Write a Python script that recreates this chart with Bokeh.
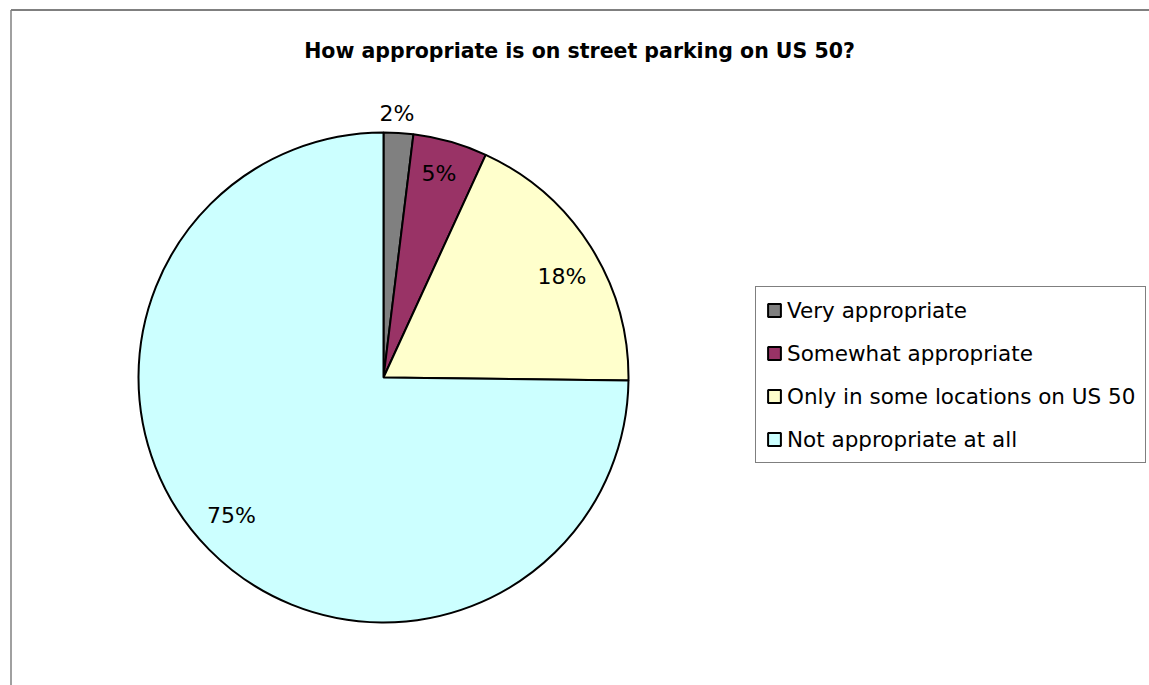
import math
from bokeh.plotting import figure
from bokeh.models import Range1d, ColumnDataSource, Legend, LegendItem, Label
from bokeh.core.properties import value
from bokeh.embed import file_html
from bokeh.resources import INLINE

# ---- data ----
title_text = "How appropriate is on street parking on US 50?"
categories = ["Very appropriate", "Somewhat appropriate",
              "Only in some locations on US 50", "Not appropriate at all"]
shares = [1.95, 4.9, 18.35, 74.8]
colors = ["#808080", "#993366", "#FFFFCC", "#CCFFFF"]

# ---- layout (image pixel space; data y = H - image y) ----
W, H = 1149, 685
FONT = "DejaVu Sans"
cx, cy, R = 383, H - 377, 245
label_r = [264, 211, 205, 205]
label_nudge_deg = [-0.6, -0.6, 2.8, 2.5]

p = figure(width=W, height=H, output_backend="svg", toolbar_location=None,
           x_range=Range1d(0, W), y_range=Range1d(0, H),
           min_border=0, outline_line_color=None)
p.axis.visible = False
p.grid.visible = False
p.background_fill_color = "white"

# chart-area border (partly cropped)
p.segment(x0=[10.5], y0=[H - 9.5], x1=[W], y1=[H - 9.5], line_color="black", line_width=1)
p.segment(x0=[10.5], y0=[H - 9.5], x1=[10.5], y1=[0], line_color="#808080", line_width=1.5)

total = sum(shares)
starts, ends, lx, ly, labels = [], [], [], [], []
cum = 0.0
for i, s in enumerate(shares):
    a0 = cum / total * 2 * math.pi
    cum += s
    a1 = cum / total * 2 * math.pi
    starts.append(math.pi / 2 - a0)
    ends.append(math.pi / 2 - a1)
    mid = (a0 + a1) / 2 + math.radians(label_nudge_deg[i])
    lx.append(cx + label_r[i] * math.sin(mid))
    ly.append(cy + label_r[i] * math.cos(mid))
    labels.append(f"{round(s)}%")

src = ColumnDataSource(dict(start=starts, end=ends, color=colors, cat=categories))
r = p.wedge(x=cx, y=cy, radius=R, start_angle="start", end_angle="end",
            direction="clock", fill_color="color", line_color="black", line_width=2,
            source=src)

p.text(x=lx, y=ly, text=labels, text_font=value(FONT), text_font_size="22px",
       text_align="center", text_baseline="middle", text_color="black")

p.add_layout(Label(x=579, y=H - 50, text=title_text, text_font=FONT,
                   text_font_size="20.5px", text_font_style="bold", text_align="center",
                   text_baseline="alphabetic", text_color="black"))

items = [LegendItem(label=c, renderers=[r], index=i) for i, c in enumerate(categories)]
legend = Legend(items=items, location=(755, H - 463), orientation="vertical",
                label_text_font=FONT, label_text_font_size="21.5px",
                label_text_color="black", glyph_width=16, glyph_height=16,
                label_standoff=5, label_height=26, spacing=17, padding=10, margin=0,
                border_line_color="black", border_line_width=1,
                background_fill_color="white", background_fill_alpha=1.0)
p.add_layout(legend, "center")

open("out.html", "w").write(file_html(p, INLINE))
